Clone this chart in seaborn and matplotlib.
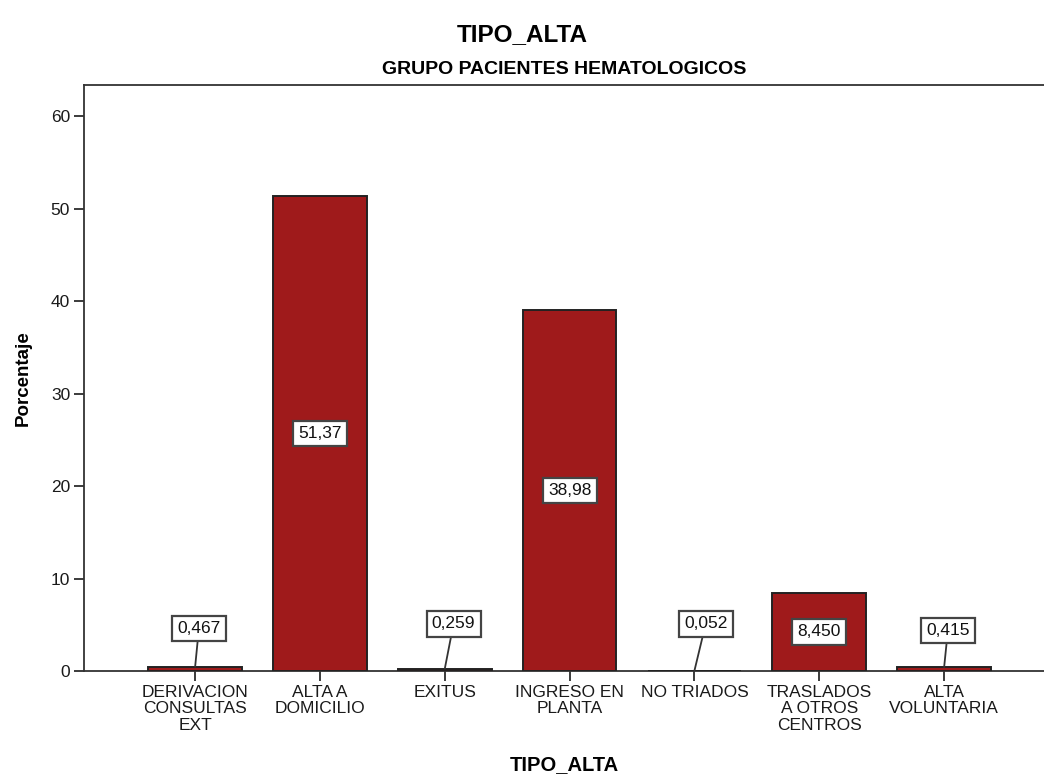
import matplotlib
matplotlib.use("Agg")
import matplotlib.pyplot as plt
import seaborn as sns
import pandas as pd

# Discharge type distribution, haematology patients (percent)
categories = [
    "DERIVACION\nCONSULTAS\nEXT",
    "ALTA A\nDOMICILIO",
    "EXITUS",
    "INGRESO EN\nPLANTA",
    "NO TRIADOS",
    "TRASLADOS\nA OTROS\nCENTROS",
    "ALTA\nVOLUNTARIA",
]
percentages = [0.467, 51.37, 0.259, 38.98, 0.052, 8.450, 0.415]
value_labels = ["0,467", "51,37", "0,259", "38,98", "0,052", "8,450", "0,415"]
y_ticks = [0, 10, 20, 30, 40, 50, 60]

sns.set_theme(style="white")
plt.rcParams["font.family"] = ["Liberation Sans", "DejaVu Sans"]
plt.rcParams["text.color"] = "black"

df = pd.DataFrame({"TIPO_ALTA": categories, "Porcentaje": percentages})

fig = plt.figure(figsize=(10.44, 7.78), dpi=100)
ax = fig.add_axes([0.0805, 0.1375, 0.9195, 0.7532])

bar_color = "#9f1a1b"
sns.barplot(data=df, x="TIPO_ALTA", y="Porcentaje", color=bar_color,
            saturation=1, width=0.75, edgecolor="#222222", linewidth=1.4,
            ax=ax, zorder=3)

ax.set_xlim(-0.89, 6.80)
ax.set_ylim(0, 63.35)
ax.set_yticks(y_ticks)
ax.set_yticklabels([str(t) for t in y_ticks], fontsize=12.5, color="#1a1a1a")
ax.tick_params(axis="x", labelsize=12.5, colors="#1a1a1a", length=7,
               width=1.2, direction="out", bottom=True, pad=3)
ax.tick_params(axis="y", length=7, width=1.2, direction="out", left=True,
               colors="#1a1a1a", pad=3)
for lbl in ax.get_xticklabels():
    lbl.set_linespacing(1.12)

for side in ["left", "bottom", "top"]:
    ax.spines[side].set_visible(True)
    ax.spines[side].set_color("#333333")
    ax.spines[side].set_linewidth(1.3)
ax.spines["right"].set_visible(False)

ax.set_xlabel("TIPO_ALTA", fontsize=14.5, fontweight="bold", labelpad=16,
              color="black")
ax.set_ylabel("Porcentaje", fontsize=13.5, fontweight="bold", labelpad=14,
              color="black")

fig.text(0.5, 0.956, "TIPO_ALTA", ha="center", va="center",
         fontsize=17.5, fontweight="bold", color="black")
ax.set_title("GRUPO PACIENTES HEMATOLOGICOS", fontsize=14,
             fontweight="bold", pad=8, color="black")

box = dict(boxstyle="square,pad=0.3", facecolor="white",
           edgecolor="#444444", linewidth=1.6)
# small bars get an offset callout with a leader line
small_dx = [0.03, 0.07, 0.09, 0.03]
small_y = [4.6, 5.1, 5.1, 4.4]
k = 0
for i, (v, lab) in enumerate(zip(percentages, value_labels)):
    if v > 5:
        ax.text(i, v / 2, lab, ha="center", va="center", fontsize=12.5,
                bbox=box, zorder=4, color="#111111")
    else:
        ax.annotate(lab, xy=(i, v), xytext=(i + small_dx[k], small_y[k]),
                    ha="center", va="center", fontsize=12.5, bbox=box,
                    color="#111111",
                    arrowprops=dict(arrowstyle="-", color="#333333",
                                    lw=1.3, shrinkA=0, shrinkB=0),
                    zorder=4)
        k += 1

fig.savefig("out.png", dpi=100)
